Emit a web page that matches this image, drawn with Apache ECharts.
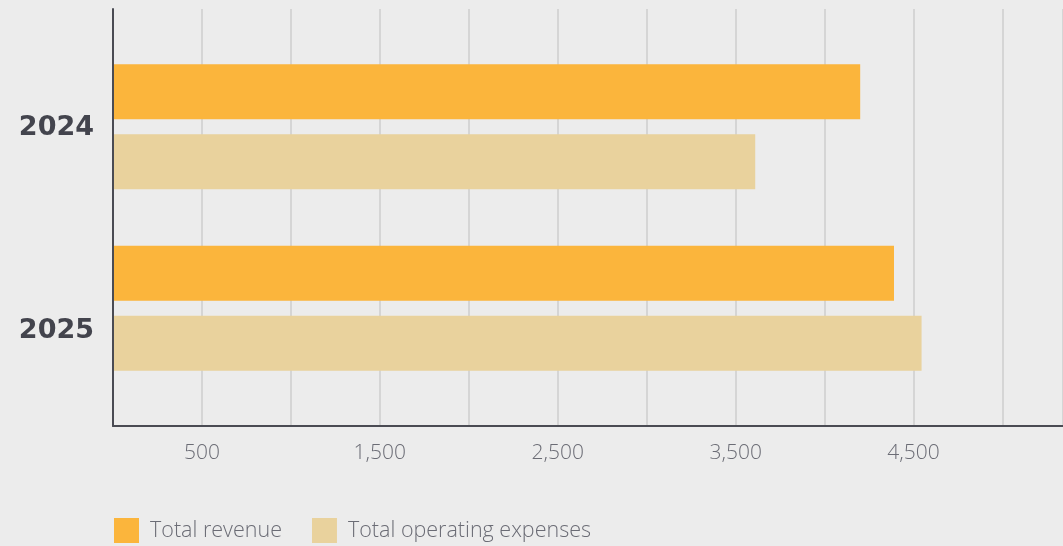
<!DOCTYPE html>
<html>
<head>
<meta charset="utf-8">
<script src="https://cdn.jsdelivr.net/npm/echarts@6/dist/echarts.min.js"></script>
<style>
html,body{margin:0;padding:0;background:#ececec;}
#chart{width:1063px;height:546px;}
</style>
</head>
<body>
<div id="chart"></div>
<script>
const categories = ['2024', '2025'];
const seriesNames = ['Total revenue', 'Total operating expenses'];
const revenue = [4200, 4390];
const expenses = [3610, 4545];
const labeledTicks = [500, 1500, 2500, 3500, 4500];
const xMax = 5340;
const xInterval = 500;

const chart = echarts.init(document.getElementById('chart'));
const fmt = v => labeledTicks.includes(v) ? v.toLocaleString('en-US') : '';

chart.setOption({
  backgroundColor: '#ececec',
  animation: false,
  grid: [
    { left: 113, right: 0, top: 9, height: 417 },
    { left: 113, right: 0, top: 36, height: 363 },
    { left: 113, right: 0, top: 26, height: 407 }
  ],
  legend: {
    left: 109, top: 513,
    itemWidth: 25, itemHeight: 25, itemGap: 30,
    icon: 'rect',
    data: seriesNames,
    textStyle: { fontFamily: 'Open Sans', fontSize: 21.5, fontWeight: 300, color: '#6b6c75', padding: [0, 0, 0, 6] }
  },
  xAxis: [
    {
      gridIndex: 0, type: 'value', min: 0, max: xMax, interval: xInterval,
      axisLine: { show: true, lineStyle: { color: '#4a4b53', width: 2 } },
      axisTick: { show: false },
      splitLine: { show: true, lineStyle: { color: '#d5d5d5', width: 2 } },
      axisLabel: { formatter: fmt, margin: 17, fontFamily: 'Open Sans', fontSize: 21, fontWeight: 300, color: '#6b6c75', showMaxLabel: false }
    },
    { gridIndex: 1, type: 'value', min: 0, max: xMax, show: false },
    { gridIndex: 2, type: 'value', min: 0, max: xMax, show: false }
  ],
  yAxis: [
    {
      gridIndex: 0, type: 'category', data: categories, inverse: true, z: 10,
      axisLine: { show: true, lineStyle: { color: '#4a4b53', width: 2 } },
      axisTick: { show: false }, axisLabel: { show: false }, splitLine: { show: false }
    },
    { gridIndex: 1, type: 'category', data: categories, inverse: true, show: false },
    {
      gridIndex: 2, type: 'category', data: categories, inverse: true,
      axisLine: { show: false }, axisTick: { show: false }, splitLine: { show: false },
      axisLabel: { margin: 19, fontFamily: 'DejaVu Sans', fontWeight: 'bold', fontSize: 27, color: '#43444d' }
    }
  ],
  series: [
    {
      name: seriesNames[0], type: 'bar', xAxisIndex: 1, yAxisIndex: 1,
      data: revenue, barWidth: 55, barGap: '27%',
      itemStyle: { color: '#fbb53c' }
    },
    {
      name: seriesNames[1], type: 'bar', xAxisIndex: 1, yAxisIndex: 1,
      data: expenses, barWidth: 55, barGap: '27%',
      itemStyle: { color: '#e9d29d' }
    }
  ]
});
</script>
</body>
</html>
